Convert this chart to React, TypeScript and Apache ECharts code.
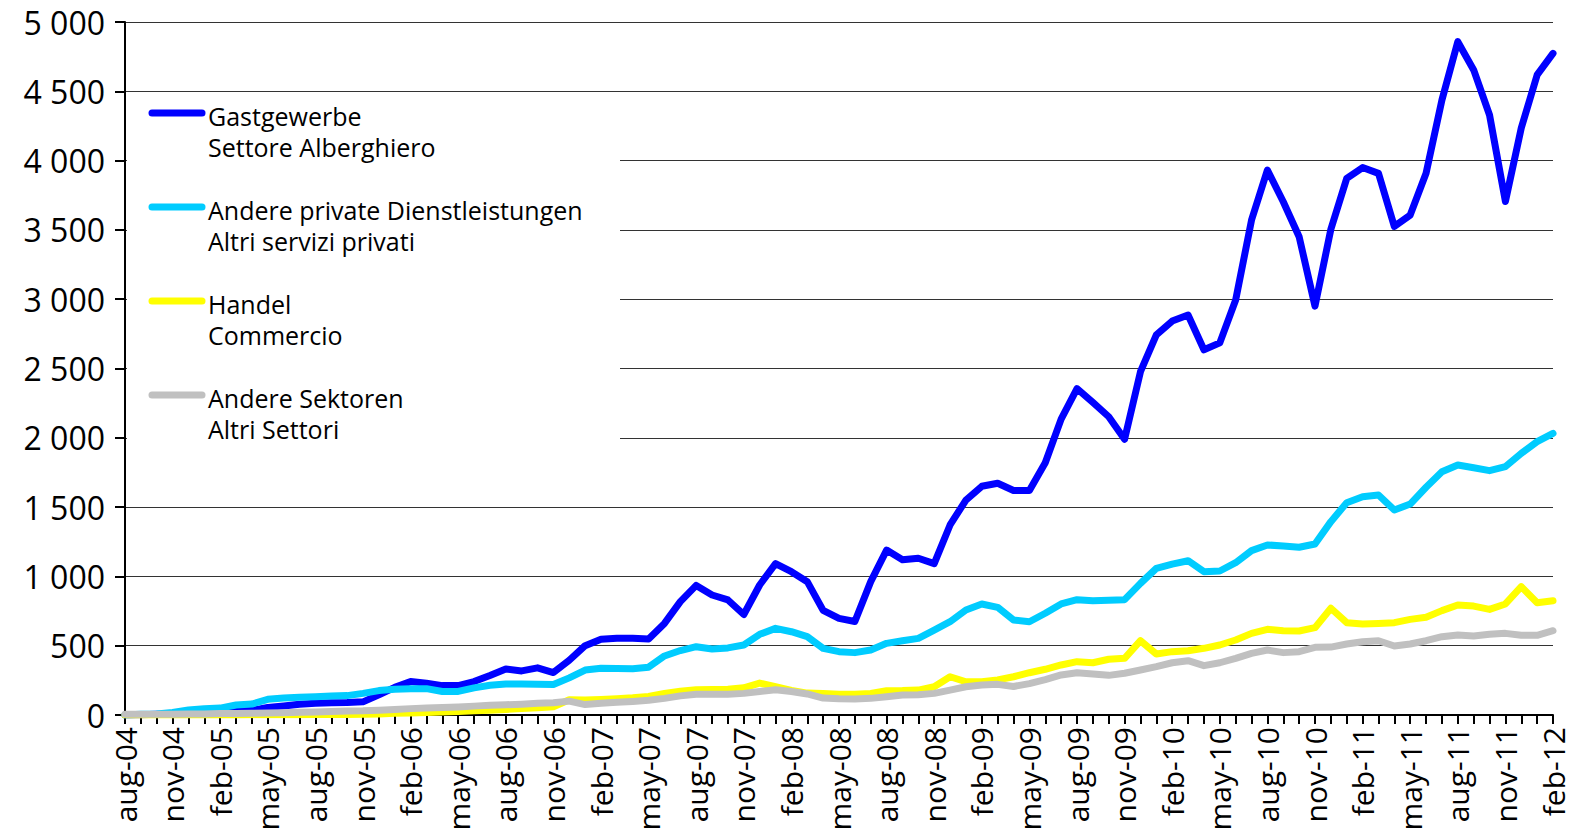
import React, { useEffect, useRef } from "react";
import * as echarts from "echarts";

const MONTHS = ["jan", "feb", "mar", "apr", "may", "jun", "jul", "aug", "sep", "oct", "nov", "dec"];

// categories: aug-04 .. feb-12
const categories: string[] = (() => {
  const out: string[] = [];
  let m = 7;
  let y = 4;
  while (!(y === 12 && m === 2)) {
    out.push(`${MONTHS[m]}-${String(y).padStart(2, "0")}`);
    m++;
    if (m === 12) {
      m = 0;
      y++;
    }
  }
  return out;
})();

const seriesNames = [
  ["Gastgewerbe", "Settore Alberghiero"],
  ["Andere private Dienstleistungen", "Altri servizi privati"],
  ["Handel", "Commercio"],
  ["Andere Sektoren", "Altri Settori"],
];

const seriesColors = ["#0000ff", "#00ccff", "#ffff00", "#c0c0c0"];

const gastgewerbe = [
  0, 2, 5, 8, 15, 22, 28, 30, 32, 55, 65, 77, 84, 89, 90, 95, 145, 200, 241, 229,
  212, 212, 241, 285, 332, 318, 340, 306, 395, 500, 546, 553, 553, 548, 661, 818, 935, 866, 830, 725,
  938, 1092, 1034, 962, 755, 697, 675, 962, 1190, 1120, 1131, 1092, 1371, 1551, 1650, 1672, 1620, 1620, 1820, 2135,
  2355, 2255, 2152, 1990, 2477, 2742, 2842, 2886, 2635, 2685, 2994, 3571, 3932, 3703, 3451, 2950, 3505, 3872, 3950, 3908,
  3525, 3607, 3908, 4437, 4858, 4654, 4329, 3705, 4235, 4618, 4774,
];

const andereDienstleistungen = [
  0, 5, 7, 19, 36, 46, 50, 72, 79, 113, 123, 128, 132, 137, 140, 156, 176, 185, 190, 190,
  170, 170, 196, 215, 224, 224, 222, 220, 268, 324, 338, 336, 333, 345, 426, 465, 493, 476, 484, 505,
  582, 625, 601, 565, 481, 457, 450, 469, 517, 536, 553, 613, 673, 758, 801, 777, 685, 673, 734, 801,
  832, 825, 828, 832, 950, 1058, 1089, 1113, 1034, 1039, 1099, 1186, 1227, 1219, 1210, 1234, 1395, 1532, 1575, 1587,
  1479, 1522, 1643, 1755, 1804, 1784, 1763, 1792, 1888, 1972, 2032,
];

const handel = [
  0, 0, 0, 0, 0, 0, 0, 0, 1, 1, 2, 2, 3, 3, 4, 5, 8, 12, 15, 18,
  22, 26, 30, 35, 40, 46, 52, 60, 110, 108, 112, 118, 124, 134, 156, 172, 182, 184, 186, 196,
  230, 205, 178, 158, 156, 150, 150, 156, 175, 176, 180, 204, 276, 240, 240, 253, 276, 305, 330, 361,
  385, 377, 402, 409, 536, 440, 457, 464, 481, 505, 541, 589, 618, 608, 606, 630, 770, 666, 657, 661,
  666, 690, 705, 753, 794, 786, 762, 801, 926, 810, 825,
];

const andereSektoren = [
  5, 5, 5, 5, 7, 8, 10, 10, 12, 14, 17, 19, 22, 25, 28, 30, 35, 40, 46, 50,
  54, 58, 64, 70, 74, 78, 84, 88, 100, 75, 84, 92, 98, 106, 120, 138, 150, 150, 150, 156,
  170, 182, 170, 152, 122, 117, 115, 120, 132, 144, 146, 156, 180, 204, 216, 221, 206, 226, 255, 289,
  305, 296, 286, 301, 325, 349, 377, 392, 356, 377, 409, 445, 469, 450, 457, 488, 490, 512, 529, 536,
  498, 512, 536, 565, 577, 570, 582, 589, 575, 575, 608,
];

const seriesValues = [gastgewerbe, andereDienstleistungen, handel, andereSektoren];

const FONT = "'Open Sans', 'Noto Sans', sans-serif";

function fmtThousands(v: number): string {
  if (v >= 1000) {
    return Math.floor(v / 1000) + " " + String(v % 1000).padStart(3, "0");
  }
  return String(v);
}

export default function App() {
  const ref = useRef<HTMLDivElement>(null);

  useEffect(() => {
    if (!ref.current) return;
    const chart = echarts.init(ref.current, undefined, { renderer: "svg" });

    const legendElements: any[] = [
      {
        type: "rect",
        shape: { x: 127, y: 100, width: 493, height: 375 },
        style: { fill: "#ffffff" },
        z: 50,
      },
    ];
    seriesNames.forEach((names, k) => {
      const ly = 113 + k * 94;
      legendElements.push({
        type: "line",
        shape: { x1: 152, y1: ly, x2: 202, y2: ly },
        style: { stroke: seriesColors[k], lineWidth: 7, lineCap: "round" },
        z: 51,
      });
      legendElements.push({
        type: "text",
        x: 208,
        y: ly + 3,
        style: {
          text: names[0],
          font: `25px ${FONT}`,
          fill: "#000",
          verticalAlign: "middle",
        },
        z: 51,
      });
      legendElements.push({
        type: "text",
        x: 208,
        y: ly + 34,
        style: {
          text: names[1],
          font: `25px ${FONT}`,
          fill: "#000",
          verticalAlign: "middle",
        },
        z: 51,
      });
    });

    chart.setOption({
      animation: false,
      backgroundColor: "#ffffff",
      grid: { left: 125, right: 19, top: 22, bottom: 125, containLabel: false },
      xAxis: {
        type: "category",
        data: categories,
        boundaryGap: false,
        axisLine: { show: true, lineStyle: { color: "#000", width: 2 } },
        axisTick: { show: true, interval: 0, length: 9, lineStyle: { color: "#000", width: 2 } },
        axisLabel: {
          interval: 2,
          rotate: 90,
          margin: 12,
          color: "#000",
          fontSize: 30,
          lineHeight: 30,
          fontFamily: FONT,
        },
        splitLine: { show: false },
      },
      yAxis: {
        type: "value",
        min: 0,
        max: 5000,
        interval: 500,
        axisLine: { show: true, lineStyle: { color: "#000", width: 2 } },
        axisTick: { show: true, length: 10, lineStyle: { color: "#000", width: 2 } },
        axisLabel: {
          formatter: (v: number) => fmtThousands(v),
          color: "#000",
          fontSize: 32,
          fontFamily: FONT,
          margin: 20,
        },
        splitLine: { show: true, lineStyle: { color: "#333", width: 1 } },
      },
      series: seriesValues.map((vals, k) => ({
        name: seriesNames[k].join(" / "),
        type: "line",
        data: vals,
        showSymbol: false,
        symbol: "none",
        lineStyle: { color: seriesColors[k], width: 7, join: "round", cap: "round" },
        itemStyle: { color: seriesColors[k] },
        z: 2 + k,
      })),
      graphic: legendElements,
    });

    return () => {
      chart.dispose();
    };
  }, []);

  return (
    <div
      ref={ref}
      style={{ position: "fixed", left: 0, top: 0, width: 1572, height: 840, background: "#fff" }}
    />
  );
}
